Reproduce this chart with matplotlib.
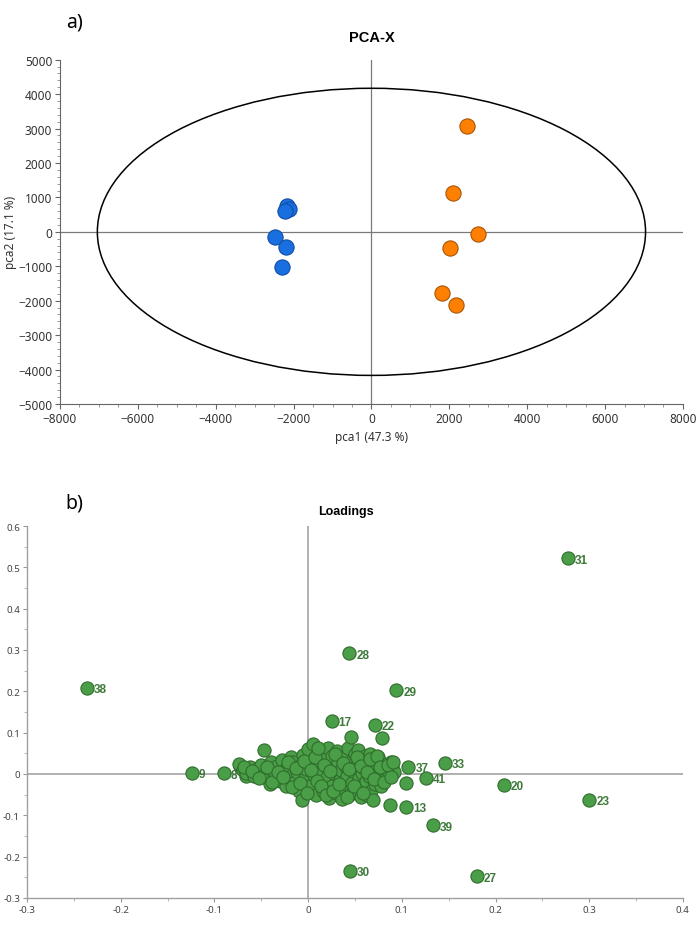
import numpy as np
import matplotlib
matplotlib.use('Agg')
import matplotlib.pyplot as plt
from matplotlib.patches import Ellipse
from matplotlib.ticker import MultipleLocator

plt.rcParams['font.family'] = ['Noto Sans', 'DejaVu Sans']
BOLD = ['Liberation Sans', 'DejaVu Sans']

# ---- a) PCA-X scores ----
blue_x = [-2166, -2114, -2208, -2482, -2182, -2294]
blue_y = [747, 651, 602, -145, -454, -1035]
orange_x = [2454, 2095, 2746, 2027, 1822, 2170]
orange_y = [3073, 1116, -76, -483, -1773, -2120]
ell_w, ell_h = 14080, 8340   # hotelling T2 ellipse

# ---- b) loadings ----
lab_names = ['31', '38', '28', '29', '17', '22', '37', '33', '41', '20', '23',
             '13', '39', '30', '27', '9', '8', '10', '6', '7', '11']
lab_x = [0.277, -0.236, 0.044, 0.094, 0.025, 0.071, 0.107, 0.146, 0.126, 0.209, 0.300,
         0.105, 0.133, 0.045, 0.180, -0.124, -0.090, -0.073, -0.066, -0.054, -0.045]
lab_y = [0.522, 0.208, 0.292, 0.202, 0.128, 0.119, 0.018, 0.027, -0.010, -0.026, -0.063,
         -0.080, -0.124, -0.234, -0.248, 0.003, 0.002, 0.019, -0.005, 0.012, -0.008]

# unlabelled loadings (the dense blob)
clu_x = [-0.074, -0.070, -0.066, -0.062, -0.058, -0.055, -0.050, -0.047, -0.046, -0.043,
         -0.041, -0.040, -0.037, -0.035, -0.033, -0.030, -0.028, -0.026, -0.024, -0.022,
         -0.020, -0.018, -0.016, -0.014, -0.012, -0.010, -0.008, -0.006, -0.005, -0.003,
         -0.002, 0.000, 0.002, 0.004, 0.005, 0.006, 0.008, 0.010, 0.012, 0.013,
         0.015, 0.016, 0.018, 0.020, 0.021, 0.022, 0.024, 0.025, 0.026, 0.028,
         0.030, 0.031, 0.032, 0.034, 0.035, 0.036, 0.038, 0.039, 0.040, 0.042,
         0.043, 0.044, 0.045, 0.046, 0.047, 0.048, 0.050, 0.051, 0.052, 0.053,
         0.054, 0.055, 0.056, 0.057, 0.058, 0.060, 0.061, 0.062, 0.063, 0.064,
         0.065, 0.066, 0.067, 0.068, 0.069, 0.070, 0.071, 0.072, 0.074, 0.075,
         0.076, 0.078, 0.079, 0.080, 0.082, 0.084, 0.086, 0.087, 0.088, 0.090,
         0.092, 0.104,
         -0.068, -0.060, -0.052, -0.044, -0.038, -0.032, -0.027, -0.021, -0.017, -0.013,
         -0.009, -0.004, -0.001, 0.003, 0.007, 0.009, 0.011, 0.014, 0.017, 0.019,
         0.023, 0.027, 0.029, 0.033, 0.037, 0.041, 0.044, 0.049, 0.052, 0.056,
         0.059, 0.063, 0.066, 0.070, 0.073, 0.077, 0.081, 0.085, 0.089, 0.091]
clu_y = [0.024, 0.010, 0.002, 0.018, -0.004, 0.012, 0.022, 0.058, 0.000, -0.012,
         -0.024, 0.028, 0.008, -0.004, 0.020, -0.018, 0.034, 0.006, -0.030, 0.018,
         -0.008, 0.040, 0.028, -0.020, 0.004, -0.040, 0.022, -0.062, 0.045, -0.010,
         0.012, 0.060, -0.030, 0.030, 0.072, -0.002, -0.050, 0.018, 0.050, -0.018,
         0.006, -0.040, 0.036, -0.008, 0.062, -0.058, 0.020, -0.028, 0.044, 0.002,
         -0.046, 0.056, 0.028, -0.014, 0.010, -0.060, 0.040, -0.036, 0.018, -0.004,
         0.064, -0.050, 0.030, 0.089, -0.022, 0.008, 0.048, -0.040, 0.022, 0.057,
         -0.010, 0.036, -0.056, 0.002, -0.030, 0.014, 0.044, -0.018, -0.052, 0.028,
         -0.004, 0.049, -0.040, 0.010, -0.062, 0.032, -0.024, 0.020, -0.008, 0.040,
         0.004, -0.030, 0.087, 0.024, -0.012, 0.012, -0.002, -0.074, 0.030, 0.016,
         0.004, -0.021,
         0.016, 0.006, -0.010, 0.016, -0.020, 0.004, -0.008, 0.030, -0.032, 0.014,
         -0.022, 0.032, -0.045, 0.010, 0.040, -0.016, 0.063, -0.030, 0.022, -0.052,
         0.008, -0.040, 0.048, -0.024, 0.026, -0.055, 0.012, -0.030, 0.040, 0.020,
         -0.045, 0.004, 0.036, -0.012, 0.044, 0.016, -0.020, 0.022, -0.008, 0.028]

fig = plt.figure(figsize=(6.99, 9.28), dpi=100)

# ---------- top panel ----------
ax1 = fig.add_axes([0.0858, 0.5636, 0.8912, 0.3710])
ax1.set_xlim(-8000, 8000)
ax1.set_ylim(-5000, 5000)
ax1.axhline(0, color='#7a7a7a', lw=0.9, zorder=1)
ax1.axvline(0, color='#7a7a7a', lw=0.9, zorder=1)
ax1.add_patch(Ellipse((0, 0), ell_w, ell_h, fill=False, ec='black', lw=1.1, zorder=2))
ax1.scatter(blue_x, blue_y, s=120, c='#1a6fe0', edgecolors='#104ea5', linewidths=0.8, zorder=3)
ax1.scatter(orange_x, orange_y, s=120, c='#ff8000', edgecolors='#a8550a', linewidths=0.8, zorder=3)
for sp in ['top', 'right']:
    ax1.spines[sp].set_visible(False)
for sp in ['left', 'bottom']:
    ax1.spines[sp].set_color('#666666')
    ax1.spines[sp].set_linewidth(0.8)
ax1.xaxis.set_major_locator(MultipleLocator(2000))
ax1.xaxis.set_minor_locator(MultipleLocator(500))
ax1.yaxis.set_major_locator(MultipleLocator(1000))
ax1.yaxis.set_minor_locator(MultipleLocator(200))
ax1.tick_params(which='major', length=3.5, width=0.8, color='#666666', labelsize=8.5,
                labelcolor='#333333', pad=2)
ax1.tick_params(which='minor', length=2, width=0.6, color='#888888')
ax1.set_xlabel('pca1 (47.3 %)', fontsize=8.5, color='#333333', labelpad=4)
ax1.set_ylabel('pca2 (17.1 %)', fontsize=8.5, color='#333333', labelpad=1)
fig.text(0.532, 0.959, 'PCA-X', fontsize=10.5, fontweight='bold', family=BOLD,
         ha='center', va='center')
fig.text(0.094, 0.976, 'a)', fontsize=14, ha='left', va='center')

# ---------- bottom panel ----------
ax2 = fig.add_axes([0.0386, 0.0313, 0.9384, 0.4008])
ax2.set_xlim(-0.3, 0.4)
ax2.set_ylim(-0.3, 0.6)
ax2.axhline(0, color='#aaaaaa', lw=1.3, zorder=1)
ax2.axvline(0, color='#aaaaaa', lw=1.3, zorder=1)

green = '#4b9e48'
green_edge = '#2f6d2c'
for name, x, y in zip(lab_names, lab_x, lab_y):
    ax2.annotate(name, (x, y), xytext=(5, -1), textcoords='offset points',
                 ha='left', va='center', fontsize=8.5, fontweight='bold', family=BOLD,
                 color='#3d7a3a', zorder=2)
ax2.scatter(lab_x, lab_y, s=90, c=green, edgecolors=green_edge, linewidths=0.8, zorder=3)
ax2.scatter(clu_x, clu_y, s=90, c=green, edgecolors=green_edge, linewidths=0.8, zorder=3)

for sp in ['top', 'right']:
    ax2.spines[sp].set_visible(False)
for sp in ['left', 'bottom']:
    ax2.spines[sp].set_color('#a0a0a0')
    ax2.spines[sp].set_linewidth(1.0)
ax2.xaxis.set_major_locator(MultipleLocator(0.1))
ax2.xaxis.set_minor_locator(MultipleLocator(0.05))
ax2.yaxis.set_major_locator(MultipleLocator(0.1))
ax2.yaxis.set_minor_locator(MultipleLocator(0.05))
ax2.xaxis.set_major_formatter(plt.FuncFormatter(lambda v, p: f'{v:g}' if abs(v) > 1e-9 else '0'))
ax2.yaxis.set_major_formatter(plt.FuncFormatter(lambda v, p: f'{v:g}' if abs(v) > 1e-9 else '0'))
ax2.tick_params(which='major', length=3, width=0.8, color='#999999', labelsize=7,
                labelcolor='#444444', pad=2)
ax2.tick_params(which='minor', length=2, width=0.6, color='#aaaaaa')
fig.text(0.495, 0.448, 'Loadings', fontsize=9, fontweight='bold', family=BOLD,
         ha='center', va='center')
fig.text(0.094, 0.457, 'b)', fontsize=14, ha='left', va='center')

fig.savefig('out.png', dpi=100)
